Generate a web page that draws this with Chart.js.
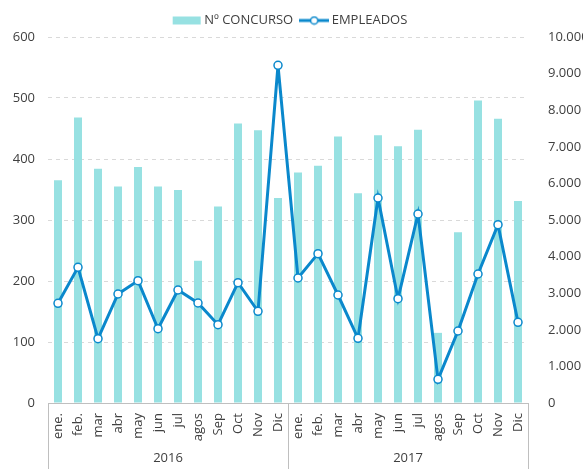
<!DOCTYPE html>
<html><head><meta charset="utf-8">
<script src="https://cdn.jsdelivr.net/npm/chart.js@4/dist/chart.umd.min.js"></script>
<style>html,body{margin:0;padding:0;background:#fff}#w{width:583px;height:469px}</style>
</head><body><div id="w"><canvas id="c" width="583" height="469"></canvas></div>
<script>
const monthNames = ['ene.','feb.','mar','abr','may','jun','jul','agos','Sep','Oct','Nov','Dic'];
const years = ['2016','2017'];
const categories = years.flatMap(() => monthNames);
const concurso = [365,468,384,355,387,355,349,233,322,458,447,336,
                  378,389,437,344,439,421,448,115,280,496,466,331];
const empleados = [2724,3707,1757,2978,3342,2030,3087,2732,2140,3288,2505,9226,
                   3415,4080,2951,1767,5601,2850,5164,647,1967,3525,4872,2204];
const leftMax = 600, leftStep = 100;
const rightMax = 10000, rightStep = 1000;

const BAR = '#97e1e2', LINE = '#0a88cc', TXT = '#404040', AXIS = '#bfbfbf';
const FONT = '"Open Sans", sans-serif';

function icon(kind){
  const c = document.createElement('canvas');
  c.width = 30; c.height = 10;
  const g = c.getContext('2d');
  if(kind === 'bar'){ g.fillStyle = BAR; g.fillRect(1,1,28,8); }
  else {
    g.strokeStyle = LINE; g.lineWidth = 3;
    g.beginPath(); g.moveTo(0,5); g.lineTo(30,5); g.stroke();
    g.fillStyle = '#fff'; g.lineWidth = 1.5;
    g.beginPath(); g.arc(15,5,3.6,0,Math.PI*2); g.fill(); g.stroke();
  }
  return c;
}

const yearPlugin = {
  id: 'years',
  afterDraw(chart){
    const x = chart.scales.x, ctx = chart.ctx, a = chart.chartArea;
    const step = x.getPixelForValue(1) - x.getPixelForValue(0);
    ctx.save();
    ctx.strokeStyle = AXIS; ctx.lineWidth = 1;
    ctx.fillStyle = TXT; ctx.font = '13px ' + FONT;
    ctx.textAlign = 'center'; ctx.textBaseline = 'middle';
    years.forEach((yr, i) => {
      const x0 = x.getPixelForValue(i*12) - step/2;
      const x1 = x.getPixelForValue(i*12+11) + step/2;
      [x0, x1].forEach(px => {
        ctx.beginPath(); ctx.moveTo(Math.round(px)+0.5, a.bottom); ctx.lineTo(Math.round(px)+0.5, chart.height); ctx.stroke();
      });
      ctx.fillText(yr, (x0+x1)/2, 458);
    });
    ctx.restore();
  }
};

new Chart(document.getElementById('c'), {
  data: {
    labels: categories,
    datasets: [
      { type:'line', label:'EMPLEADOS', data: empleados, yAxisID:'y1', order:0,
        borderColor: LINE, borderWidth: 3, tension: 0,
        pointRadius: 4, pointHoverRadius: 4, pointBackgroundColor:'#fff',
        pointBorderColor: LINE, pointBorderWidth: 1.5 },
      { type:'bar', label:'Nº CONCURSO', data: concurso, yAxisID:'y', order:1,
        backgroundColor: BAR, barPercentage: 0.4, categoryPercentage: 1 }
    ]
  },
  options: {
    responsive: false, animation: false, devicePixelRatio: 1,
    layout: { padding: { top: 4, bottom: 0, left: 0, right: 0 } },
    plugins: {
      tooltip: { enabled: false },
      legend: {
        position: 'top', align: 'center',
        labels: {
          usePointStyle: true, pointStyleWidth: 22, boxHeight: 10,
          color: TXT, font: { size: 13, family: FONT }, padding: 10,
          generateLabels(chart){
            return [
              { text:'Nº CONCURSO', pointStyle: icon('bar'), fillStyle: BAR, strokeStyle: BAR, lineWidth: 0, datasetIndex: 1, fontColor: TXT },
              { text:'EMPLEADOS', pointStyle: icon('line'), fillStyle: '#fff', strokeStyle: LINE, lineWidth: 0, datasetIndex: 0, fontColor: TXT }
            ];
          }
        }
      }
    },
    scales: {
      x: {
        type: 'category', position: 'bottom',
        grid: { display: false },
        border: { color: AXIS },
        ticks: { color: TXT, font: { size: 13, family: FONT }, minRotation: 90, maxRotation: 90, autoSkip: false, padding: 2 },
        afterFit(s){ s.height = 66; }
      },
      y: {
        position: 'left', min: 0, max: leftMax,
        ticks: { stepSize: leftStep, color: TXT, font: { size: 13, family: FONT }, padding: 13 },
        grid: { color: '#d9d9d9', drawTicks: false },
        border: { display: false, dash: [4,4] },
        afterFit(s){ s.width = 48; }
      },
      y1: {
        position: 'right', min: 0, max: rightMax,
        ticks: { stepSize: rightStep, color: TXT, font: { size: 13, family: FONT }, padding: 12,
                 callback: v => String(v).replace(/\B(?=(\d{3})+(?!\d))/g, '.') },
        grid: { display: false },
        border: { display: false },
        afterFit(s){ s.width = 55; }
      }
    }
  },
  plugins: [yearPlugin]
});
</script>
</body></html>
